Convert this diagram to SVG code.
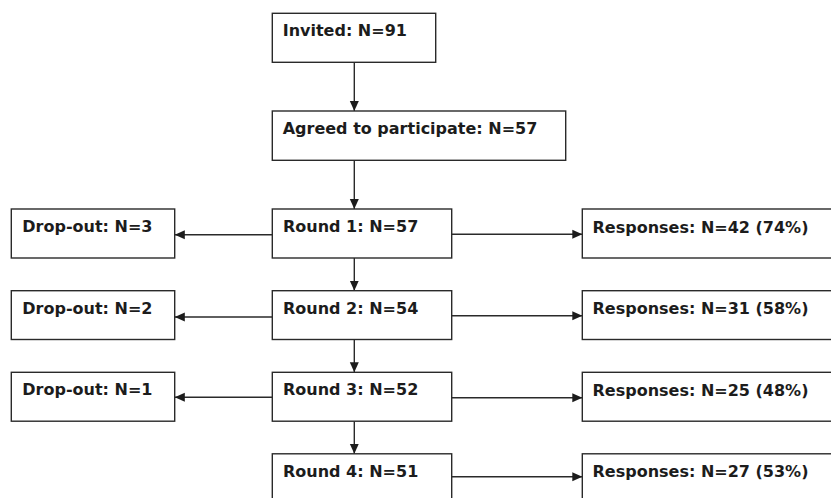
<svg xmlns="http://www.w3.org/2000/svg" width="831" height="498" viewBox="0 0 831 498">
<style>
.box{fill:#fff;stroke:#2a2a2a;stroke-width:1.4}
.t{font-family:"DejaVu Sans",Verdana,sans-serif;font-weight:bold;font-size:16px;fill:#1c1c1c}
.c{stroke:#2a2a2a;stroke-width:1.4;fill:none;marker-end:url(#ah)}
</style>
<defs>
<marker id="ah" markerUnits="userSpaceOnUse" markerWidth="11" markerHeight="10" refX="10" refY="5" orient="auto">
<path d="M0,0.5 L10,5 L0,9.5 Z" fill="#1c1c1c"/>
</marker>
</defs>
<rect width="831" height="498" fill="#fff"/>
<g id="connectors">
<line class="c" x1="354.3" y1="62.3" x2="354.3" y2="111"/>
<line class="c" x1="354.3" y1="160.3" x2="354.3" y2="209"/>
<line class="c" x1="354.3" y1="258" x2="354.3" y2="290.7"/>
<line class="c" x1="354.3" y1="339.5" x2="354.3" y2="372.3"/>
<line class="c" x1="354.3" y1="421.2" x2="354.3" y2="453.8"/>
<line class="c" x1="272.3" y1="234.7" x2="174.8" y2="234.7"/>
<line class="c" x1="272.3" y1="317" x2="174.8" y2="317"/>
<line class="c" x1="272.3" y1="397.3" x2="174.8" y2="397.3"/>
<line class="c" x1="451.7" y1="234.3" x2="582.3" y2="234.3"/>
<line class="c" x1="451.7" y1="315.7" x2="582.3" y2="315.7"/>
<line class="c" x1="451.7" y1="397.7" x2="582.3" y2="397.7"/>
<line class="c" x1="451.7" y1="476.7" x2="582.3" y2="476.7"/>
</g>
<g id="invited"><rect class="box" x="272.3" y="13.3" width="163.4" height="49"/><text class="t" x="282.7" y="36">Invited: N=91</text></g>
<g id="agreed"><rect class="box" x="272.3" y="111" width="293.4" height="49.3"/><text class="t" x="282.7" y="134">Agreed to participate: N=57</text></g>
<g id="round1"><rect class="box" x="272.3" y="209" width="179.4" height="49"/><text class="t" x="283" y="232">Round 1: N=57</text></g>
<g id="round2"><rect class="box" x="272.3" y="290.7" width="179.4" height="48.8"/><text class="t" x="283" y="313.7">Round 2: N=54</text></g>
<g id="round3"><rect class="box" x="272.3" y="372.3" width="179.4" height="48.9"/><text class="t" x="283" y="395.3">Round 3: N=52</text></g>
<g id="round4"><rect class="box" x="272.3" y="453.8" width="179.4" height="49"/><text class="t" x="283" y="476.8">Round 4: N=51</text></g>
<g id="drop1"><rect class="box" x="11.3" y="209" width="163.4" height="49"/><text class="t" x="22.3" y="232">Drop-out: N=3</text></g>
<g id="drop2"><rect class="box" x="11.3" y="290.7" width="163.4" height="48.8"/><text class="t" x="22.3" y="313.7">Drop-out: N=2</text></g>
<g id="drop3"><rect class="box" x="11.3" y="372.3" width="163.4" height="48.9"/><text class="t" x="22.3" y="395.3">Drop-out: N=1</text></g>
<g id="resp1"><rect class="box" x="582.3" y="209" width="260" height="49"/><text class="t" x="592.5" y="232.5">Responses: N=42 (74%)</text></g>
<g id="resp2"><rect class="box" x="582.3" y="290.7" width="260" height="48.8"/><text class="t" x="592.5" y="314">Responses: N=31 (58%)</text></g>
<g id="resp3"><rect class="box" x="582.3" y="372.3" width="260" height="48.9"/><text class="t" x="592.5" y="395.5">Responses: N=25 (48%)</text></g>
<g id="resp4"><rect class="box" x="582.3" y="453.8" width="260" height="49"/><text class="t" x="592.5" y="477">Responses: N=27 (53%)</text></g>
</svg>
